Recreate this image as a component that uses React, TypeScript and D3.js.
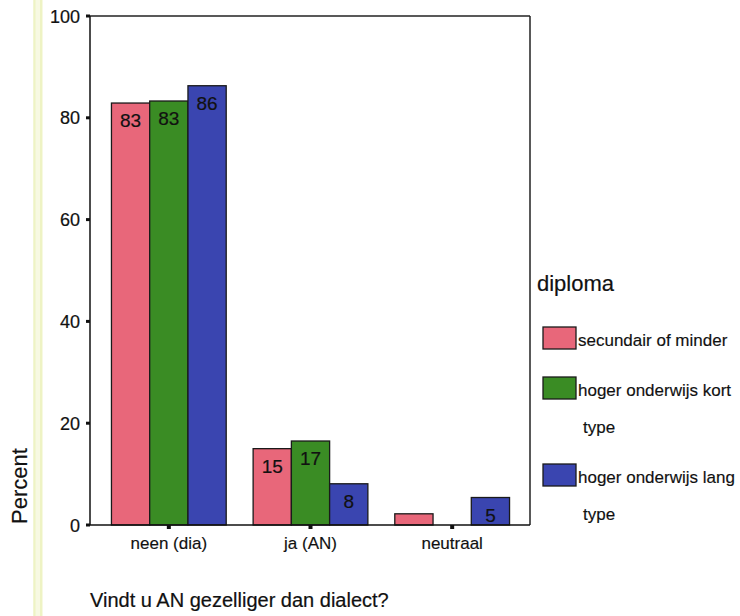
import React from "react";
import * as d3 from "d3";

const categories = ["neen (dia)", "ja (AN)", "neutraal"];
const seriesNames = ["secundair of minder", "hoger onderwijs kort type", "hoger onderwijs lang type"];
const legendLines = [["secundair of minder"], ["hoger onderwijs kort", "type"], ["hoger onderwijs lang", "type"]];
const secundair = [82.9, 15.0, 2.2];
const hogerKort = [83.3, 16.5, 0];
const hogerLang = [86.3, 8.1, 5.4];
const yTicks = [0, 20, 40, 60, 80, 100];
const colors = ["#E8677A", "#3A8C24", "#3A45B0"];

const W = 740, H = 616;
const x0 = 90, x1 = 530, yTop = 16, yBot = 525;
const FONT = "Liberation Sans, Arial, sans-serif";

export default function App() {
  const series = [secundair, hogerKort, hogerLang];
  const y = d3.scaleLinear().domain([0, 100]).range([yBot, yTop]);
  const xb = d3.scaleBand<string>().domain(categories).range([98, 523]).paddingInner(0.19).paddingOuter(0.095);
  const xs = d3.scaleBand<number>().domain([0, 1, 2]).range([0, xb.bandwidth()]);

  return (
    <svg width={W} height={H} style={{ display: "block", position: "absolute", left: 0, top: 0, background: "#fff" }} fontFamily={FONT}>
      <rect x={0} y={0} width={W} height={H} fill="#fff" />
      <rect x={33} y={0} width={10} height={H} fill="#f7f9e2" />
      <line x1={34.5} x2={34.5} y1={0} y2={H} stroke="#eef3c4" strokeWidth={2} />
      <line x1={41} x2={41} y1={0} y2={H} stroke="#eef3c4" strokeWidth={2} />

      {/* bars */}
      {categories.map((c, ci) => (
        <g key={c}>
          {series.map((s, si) => {
            const v = s[ci];
            if (v <= 0) return null;
            const bx = (xb(c) as number) + (xs(si) as number);
            const by = y(v);
            const bh = yBot - by;
            return (
              <g key={si}>
                <rect x={bx} y={by} width={xs.bandwidth()} height={bh} fill={colors[si]} stroke="#1a1a1a" strokeWidth={1.3} />
                {bh > 22 && (
                  <text x={bx + xs.bandwidth() / 2} y={by + 24} textAnchor="middle" fontSize={19} fill="#111" stroke="#111" strokeWidth={0.2}>
                    {Math.round(v)}
                  </text>
                )}
              </g>
            );
          })}
        </g>
      ))}

      {/* frame */}
      <line x1={x0} x2={x1} y1={yTop} y2={yTop} stroke="#222" strokeWidth={1.5} />
      <line x1={x1} x2={x1} y1={yTop} y2={yBot} stroke="#222" strokeWidth={1.5} />
      <line x1={x0} x2={x0} y1={yTop} y2={yBot} stroke="#111" strokeWidth={1.5} />
      <line x1={x0} x2={x1} y1={yBot} y2={yBot} stroke="#111" strokeWidth={1.5} />

      {/* y ticks */}
      {yTicks.map((t) => (
        <g key={t}>
          <rect x={x0 - 4} y={y(t) - 1.5} width={4} height={3} fill="#111" />
          <text x={80} y={y(t) + 6.5} textAnchor="end" fontSize={18} fill="#111" stroke="#111" strokeWidth={0.2}>{t}</text>
        </g>
      ))}

      {/* x ticks */}
      {categories.map((c) => {
        const cx = (xb(c) as number) + xb.bandwidth() / 2;
        return (
          <g key={c}>
            <rect x={cx - 2} y={yBot} width={4} height={4} fill="#111" />
            <text x={cx} y={549} textAnchor="middle" fontSize={17} fill="#111" stroke="#111" strokeWidth={0.15}>{c}</text>
          </g>
        );
      })}

      <text x={90} y={607} fontSize={20} fill="#111" stroke="#111" strokeWidth={0.2}>Vindt u AN gezelliger dan dialect?</text>
      <text transform="translate(27,486) rotate(-90)" textAnchor="middle" fontSize={22} fill="#111" stroke="#111" strokeWidth={0.2}>Percent</text>

      {/* legend */}
      <text x={537} y={291} fontSize={22} fill="#111" stroke="#111" strokeWidth={0.2}>diploma</text>
      {seriesNames.map((n, i) => {
        const sy = [327, 377, 464][i];
        return (
          <g key={n}>
            <rect x={543} y={sy} width={33} height={22} fill={colors[i]} stroke="#1a1a1a" strokeWidth={1.3} />
            {legendLines[i].map((ln, li) => (
              <text key={li} x={li === 0 ? 578 : 583} y={sy + 19 + li * 37} fontSize={17} fill="#111" stroke="#111" strokeWidth={0.15}>{ln}</text>
            ))}
          </g>
        );
      })}
    </svg>
  );
}
